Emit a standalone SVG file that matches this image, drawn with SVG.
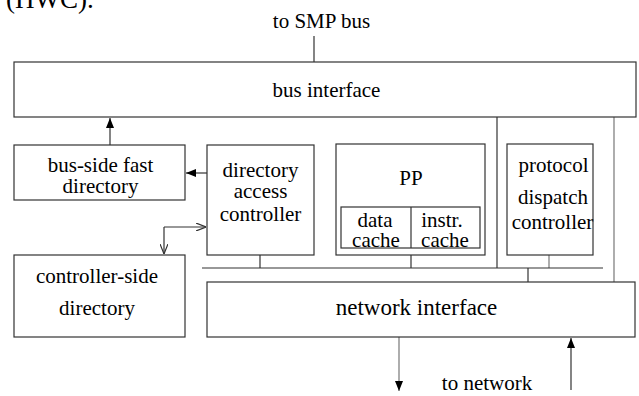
<svg xmlns="http://www.w3.org/2000/svg" width="639" height="396" viewBox="0 0 639 396">
<style>
  .box{fill:#fff;stroke:#333;stroke-width:1.2}
  .ln{fill:none;stroke:#333;stroke-width:1.2}
  .lg{fill:none;stroke:#777;stroke-width:1.2}
  .t{font-size:21px;fill:#000;text-anchor:middle}
</style>
<defs>
  <marker id="fa" viewBox="0 0 10 8" refX="10" refY="4" markerWidth="10" markerHeight="8" markerUnits="userSpaceOnUse" orient="auto">
    <path d="M0,0 L10,4 L0,8 Z" fill="#000"/>
  </marker>
  <marker id="oa" viewBox="0 0 10 8" refX="10" refY="4" markerWidth="10" markerHeight="8" markerUnits="userSpaceOnUse" orient="auto">
    <path d="M0,0 L10,4 L0,8" fill="none" stroke="#333" stroke-width="1.2"/>
  </marker>
</defs>
<g font-family="'Liberation Serif', 'DejaVu Serif', serif">
<text class="t" x="6" y="8" style="font-size:27px;text-anchor:start">(HWC).</text>
<text class="t" x="321.5" y="28">to SMP bus</text>
<text class="t" x="487" y="390">to network</text>
<g id="connectors">
  <line class="ln" x1="314" y1="36" x2="314" y2="62"/>
  <line class="ln" x1="110" y1="145" x2="110" y2="118" marker-end="url(#fa)"/>
  <line class="ln" x1="207" y1="173" x2="186" y2="173" marker-end="url(#fa)"/>
  <polyline class="ln" points="164,227 164,254" marker-end="url(#oa)"/>
  <polyline class="ln" points="164,227 206,227" marker-end="url(#oa)"/>
  <line class="ln" x1="260" y1="255" x2="260" y2="268"/>
  <line class="ln" x1="411" y1="255" x2="411" y2="268"/>
  <line class="lg" x1="549" y1="255" x2="549" y2="268"/>
  <line class="ln" x1="202" y1="268" x2="603" y2="268"/>
  <line class="ln" x1="497" y1="117" x2="497" y2="268"/>
  <line class="lg" x1="614" y1="117" x2="614" y2="282"/>
  <line class="ln" x1="528" y1="268" x2="528" y2="282"/>
  <line class="lg" x1="399" y1="337" x2="399" y2="391" marker-end="url(#fa)"/>
  <line class="ln" x1="571" y1="390" x2="571" y2="338" marker-end="url(#fa)"/>
</g>
<g id="bus-interface">
  <rect class="box" x="14" y="62" width="622" height="55"/>
  <text class="t" x="326.5" y="97">bus interface</text>
</g>
<g id="bus-side-fast-directory">
  <rect class="box" x="14" y="145" width="171" height="55"/>
  <text class="t" x="100.5" y="172">bus-side fast</text>
  <text class="t" x="100.5" y="193">directory</text>
</g>
<g id="directory-access-controller">
  <rect class="box" x="207" y="145" width="107" height="110"/>
  <text class="t" x="260.5" y="177">directory</text>
  <text class="t" x="260.5" y="198">access</text>
  <text class="t" x="260.5" y="221">controller</text>
</g>
<g id="controller-side-directory">
  <rect class="box" x="14" y="255" width="171" height="82"/>
  <text class="t" x="97" y="283">controller-side</text>
  <text class="t" x="97" y="315">directory</text>
</g>
<g id="pp">
  <rect class="box" x="336" y="144" width="149" height="111"/>
  <text class="t" x="411" y="185">PP</text>
  <rect class="box" x="341" y="207" width="139" height="41"/>
  <line class="ln" x1="411" y1="207" x2="411" y2="248"/>
  <text class="t" x="375" y="227">data</text>
  <text class="t" x="376" y="247">cache</text>
  <text class="t" x="442" y="227">instr.</text>
  <text class="t" x="445" y="247">cache</text>
</g>
<g id="protocol-dispatch-controller">
  <rect class="box" x="507" y="144" width="86" height="111"/>
  <text class="t" x="553.5" y="172">protocol</text>
  <text class="t" x="553" y="204">dispatch</text>
  <text class="t" x="552.5" y="229">controller</text>
</g>
<g id="network-interface">
  <rect class="box" x="207" y="282" width="428" height="55"/>
  <text class="t" x="416.5" y="315" style="font-size:23px">network interface</text>
</g>
</g>
</svg>
